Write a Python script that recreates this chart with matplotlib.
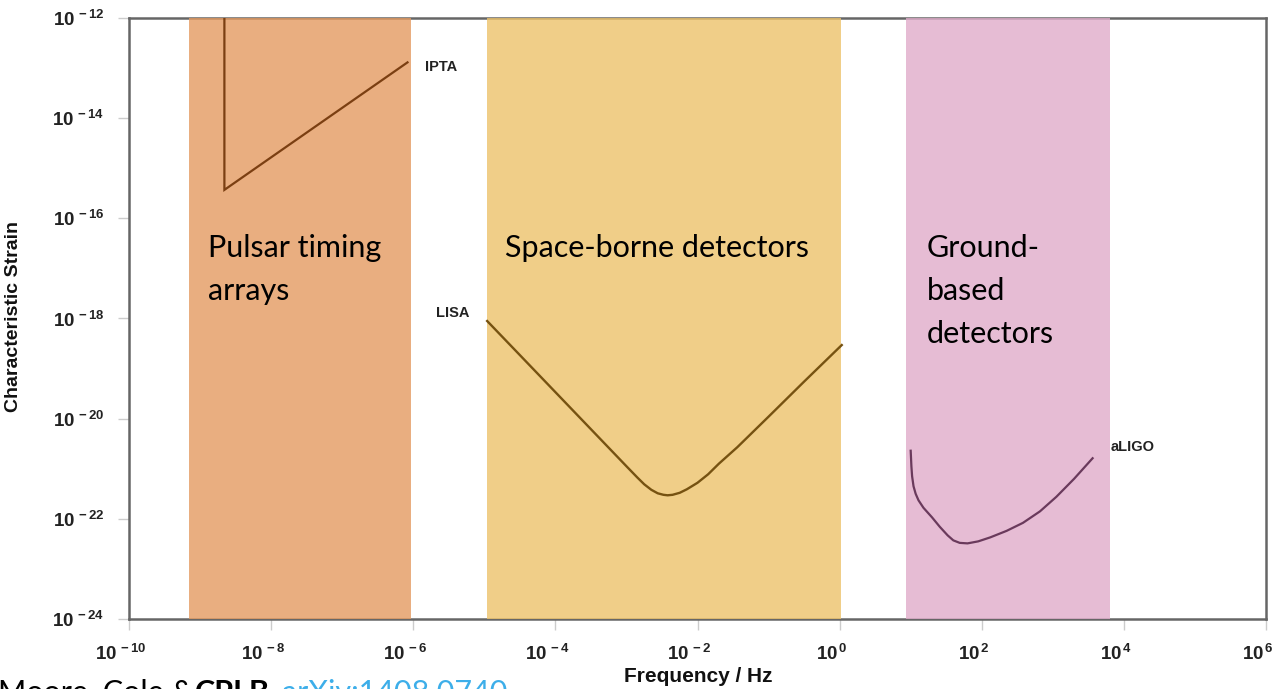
import math
import matplotlib
matplotlib.use("Agg")
import matplotlib.pyplot as plt
from matplotlib.ticker import FixedLocator, FuncFormatter
from matplotlib.transforms import ScaledTranslation

# ---- data ----
bands = [(7e-10, 9.3e-7), (1.1e-5, 1.05), (8.7, 6300.0)]
band_colors = ["#E49A60", "#EDC26A", "#E0ACCA"]
band_labels = [["Pulsar timing", "arrays"], ["Space-borne detectors"], ["Ground-", "based", "detectors"]]

ipta_f = [2.2e-9, 2.2e-9, 8.3e-7]
ipta_h = [1e-12, 3.7e-16, 1.3e-13]

lisa_f = [10**v for v in [-4.96, -4.5, -4.0, -3.5, -3.0, -2.85, -2.75, -2.65, -2.56, -2.48, -2.42,
                          -2.35, -2.25, -2.15, -2.0, -1.85, -1.7, -1.44, -1.0, -0.5, 0.03]]
lisa_h = [10**v for v in [-18.05, -18.73, -19.47, -20.21, -20.95, -21.17, -21.31, -21.42, -21.49, -21.52, -21.53,
                          -21.52, -21.48, -21.41, -21.28, -21.11, -20.9, -20.57, -19.96, -19.26, -18.53]]

ligo_f = [10**v for v in [1.0, 1.01, 1.02, 1.04, 1.07, 1.11, 1.18, 1.3, 1.41, 1.52, 1.6, 1.69, 1.8,
                          1.95, 2.12, 2.35, 2.58, 2.82, 3.05, 3.3, 3.56]]
ligo_h = [10**v for v in [-20.64, -20.95, -21.15, -21.35, -21.5, -21.63, -21.78, -21.97, -22.16, -22.33, -22.43, -22.48, -22.49,
                          -22.45, -22.37, -22.24, -22.08, -21.85, -21.56, -21.2, -20.79]]

xticks = [10.0**e for e in range(-10, 7, 2)]
yticks = [10.0**e for e in range(-24, -11, 2)]

plt.rcParams['mathtext.fontset'] = 'custom'
plt.rcParams['mathtext.rm'] = 'Liberation Sans:bold'
plt.rcParams['mathtext.it'] = 'Liberation Sans:bold'
plt.rcParams['mathtext.bf'] = 'Liberation Sans:bold'

fig = plt.figure(figsize=(12.77, 6.89), dpi=100)
ax = fig.add_axes([129/1277, 1 - 619/689, (1266 - 129)/1277, (619 - 18)/689])
ax.set_xscale('log')
ax.set_yscale('log')
ax.set_xlim(1e-10, 1e6)
ax.set_ylim(1e-24, 1e-12)

for (a, b), c in zip(bands, band_colors):
    ax.axvspan(a, b, color=c, alpha=0.8, lw=0, zorder=3)

ax.plot(ipta_f, ipta_h, color="#7B3F12", lw=1.6, zorder=4, solid_joinstyle='miter')
ax.plot(lisa_f, lisa_h, color="#765211", lw=1.7, zorder=4)
ax.plot(ligo_f, ligo_h, color="#6A3A5C", lw=1.6, zorder=4)

lbl = dict(fontfamily='Liberation Sans', fontweight='bold', fontsize=10.5, color='#222222', va='center')
ax.text(425, 689 - 67, "IPTA", transform=None, **lbl)
ax.text(436, 689 - 313, "LISA", transform=None, **lbl)
ax.text(1111, 689 - 447, "aLIGO", transform=None, **lbl)

# band titles, one text per line, baselines 43 px apart
big = dict(fontfamily='Lato', fontsize=22, color='black', va='baseline')
for x0, lines in zip([208, 505, 927], band_labels):
    for i, line in enumerate(lines):
        ax.text(x0, 689 - (257 + 43 * i), line, transform=None, **big)

for s in ax.spines.values():
    s.set_color('#666666')
    s.set_linewidth(1.8)

ax.xaxis.set_major_locator(FixedLocator(xticks))
ax.yaxis.set_major_locator(FixedLocator(yticks))
ax.minorticks_off()
fmt = FuncFormatter(lambda v, p: r'$10^{\,%d}$' % round(math.log10(v)))
ax.xaxis.set_major_formatter(fmt)
ax.yaxis.set_major_formatter(fmt)
ax.tick_params(length=8, width=1, color='#cccccc', labelsize=13.5, labelcolor='#222222')
ax.tick_params(axis='y', pad=10)
ax.tick_params(axis='x', pad=10)
for t in ax.get_xticklabels():
    t.set_transform(t.get_transform() + ScaledTranslation(-8/100, 0, fig.dpi_scale_trans))

ax.set_xlabel("Frequency / Hz", fontfamily='Liberation Sans', fontweight='bold', fontsize=15, color='#111111')
ax.xaxis.set_label_coords(698/1277, 1 - 667/689, transform=fig.transFigure)
ax.set_ylabel("Characteristic Strain", fontfamily='Liberation Sans', fontweight='bold', fontsize=14, color='#111111')
ax.yaxis.set_label_coords(22/1277, 1 - 316/689, transform=fig.transFigure)

# source line, partly below the bottom edge as in the reference
foot = dict(fontfamily='Lato', fontsize=22, va='baseline')
fig.text(-2/1277, 1 - 702/689, "Moore, Cole & ", color='black', **foot)
fig.text(195/1277, 1 - 702/689, "CPLB", color='black', fontweight='bold', **foot)
fig.text(282/1277, 1 - 702/689, "arXiv:1408.0740", color='#3DAEE9', **foot)

fig.savefig("out.png", dpi=100)
